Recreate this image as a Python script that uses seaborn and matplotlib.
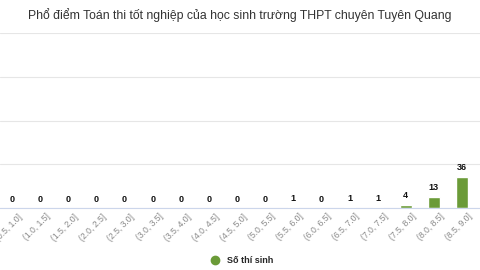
import matplotlib
matplotlib.use("Agg")
import matplotlib.pyplot as plt
import matplotlib.transforms as mtransforms
import seaborn as sns
import pandas as pd

# Score ranges (the visible part of the chart) and number of students
ranges = ["(0.5, 1.0]", "(1.0, 1.5]", "(1.5, 2.0]", "(2.0, 2.5]", "(2.5, 3.0]",
          "(3.0, 3.5]", "(3.5, 4.0]", "(4.0, 4.5]", "(4.5, 5.0]", "(5.0, 5.5]",
          "(5.5, 6.0]", "(6.0, 6.5]", "(6.5, 7.0]", "(7.0, 7.5]", "(7.5, 8.0]",
          "(8.0, 8.5]", "(8.5, 9.0]", "(9.0, 9.5]"]
students = [0, 0, 0, 0, 0, 0, 0, 0, 0, 0, 1, 0, 1, 1, 4, 13, 36, 30]

title = "Phổ điểm Toán thi tốt nghiệp của học sinh trường THPT chuyên Tuyên Quang"
series_name = "Số thí sinh"
bar_color = "#6b9b38"

sns.set_theme(style="white")
plt.rcParams['font.family'] = ['Liberation Sans', 'DejaVu Sans']

df = pd.DataFrame({"range": ranges, "count": students})

fig = plt.figure(figsize=(4.8, 2.7), dpi=100)
ax = fig.add_axes([0, 0.2296, 1, 0.648])

sns.barplot(data=df, x="range", y="count", color=bar_color, width=0.43,
            saturation=1, ax=ax, label=series_name, legend=False)

ax.set_ylim(0, 200)
ax.set_yticks([0, 50, 100, 150, 200])
ax.set_yticklabels([])
ax.tick_params(axis="y", length=0)
ax.grid(axis="y", color="#e6e6e6", linewidth=0.8)
ax.set_axisbelow(True)
ax.set_xlim(-0.427, 16.64)

for s in ["top", "right", "left"]:
    ax.spines[s].set_visible(False)
ax.spines["bottom"].set_color("#ccd6eb")
ax.spines["bottom"].set_linewidth(0.8)

ax.set_xlabel("")
ax.set_ylabel("")
ax.tick_params(axis="x", length=0, pad=3, labelsize=6.2, labelcolor="#888888")
# nudge rotated labels a little to the right, like the original
shift = mtransforms.ScaledTranslation(4 / 72, 0, fig.dpi_scale_trans)
for lbl in ax.get_xticklabels():
    lbl.set_rotation(45)
    lbl.set_ha("right")
    lbl.set_va("top")
    lbl.set_rotation_mode("anchor")
    lbl.set_transform(lbl.get_transform() + shift)

for i, v in enumerate(students):
    ax.annotate(str(v), (i, v), xytext=(0, 3), textcoords="offset points",
                ha="center", va="bottom", fontsize=6.5, fontweight="bold",
                color="#111111")

fig.text(0.5, 0.945, title, ha="center", va="center", fontsize=8.8,
         color="#333333")

# legend
fig.legend(handles=[plt.Line2D([], [], marker="o", linestyle="", markersize=6,
                               color=bar_color)],
           labels=[series_name], loc="center", bbox_to_anchor=(0.5, 0.035),
           frameon=False, handletextpad=0.3,
           prop={"size": 6.5, "weight": "bold"})

fig.savefig("out.png", dpi=100)
